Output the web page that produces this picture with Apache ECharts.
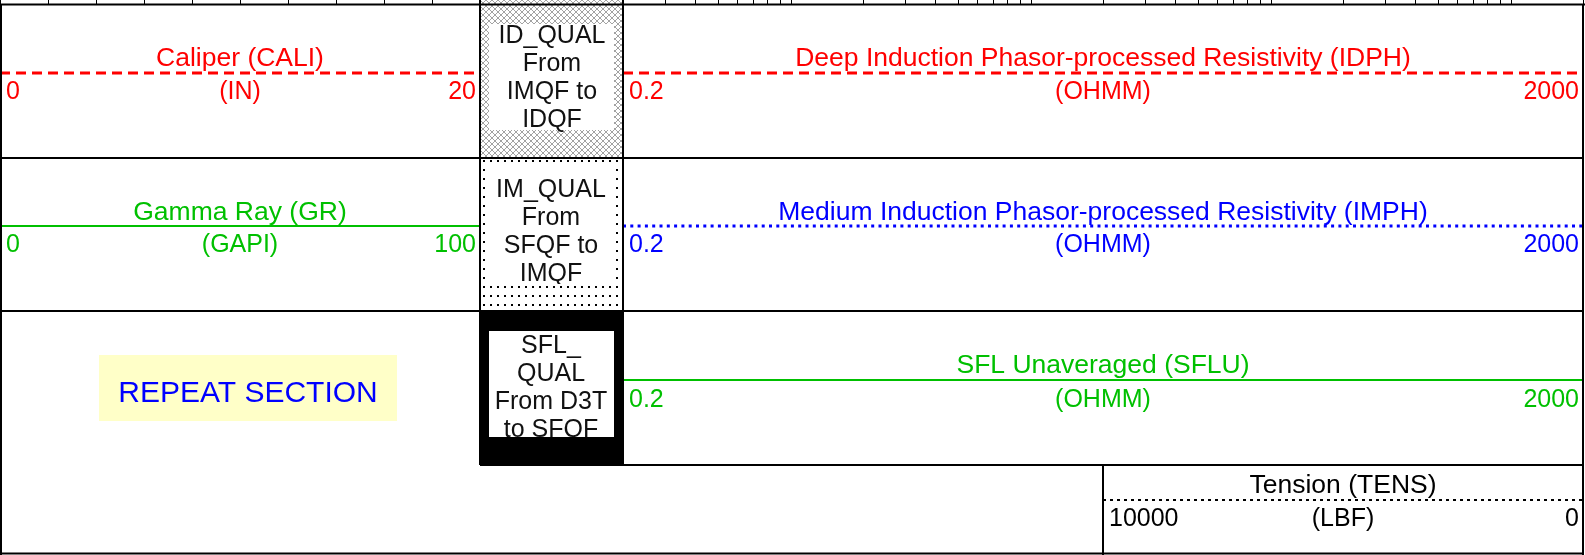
<!DOCTYPE html>
<html><head><meta charset="utf-8">
<script src="https://cdn.jsdelivr.net/npm/echarts@6/dist/echarts.min.js"></script>
<style>html,body{margin:0;padding:0;background:#fff}#c{width:1585px;height:555px}</style>
</head><body><div id="c"></div>
<script>
// ---------- data ----------
const curveNames = ['Caliper (CALI)', 'Gamma Ray (GR)', 'Deep Induction Phasor-processed Resistivity (IDPH)',
  'Medium Induction Phasor-processed Resistivity (IMPH)', 'SFL Unaveraged (SFLU)', 'Tension (TENS)'];
const curveUnits = ['(IN)', '(GAPI)', '(OHMM)', '(OHMM)', '(OHMM)', '(LBF)'];
const scaleLeft = [0, 0, 0.2, 0.2, 0.2, 10000];
const scaleRight = [20, 100, 2000, 2000, 2000, 0];
const scaleTypes = ['linear', 'linear', 'log', 'log', 'log', 'linear'];
const qualityLabels = ['ID_QUAL\nFrom\nIMQF to\nIDQF', 'IM_QUAL\nFrom\nSFQF to\nIMQF', 'SFL_\nQUAL\nFrom D3T\nto SFQF'];
const repeatLabel = 'REPEAT SECTION';
const linearGridMin = 0, linearGridMax = 100, linearGridStep = 10;
const logGridMin = 0.2, logGridMax = 2000;

// ---------- layout / style ----------
const FONT = '"Liberation Sans", Arial, Helvetica, sans-serif';
const layout = [
  {x0: 0, x1: 480, titleY: 59, lineY: 73, labelY: 92, color: '#ff0000', dash: [10, 6], width: 3},
  {x0: 0, x1: 480, titleY: 213, lineY: 226, labelY: 245, color: '#00c000', dash: 'solid', width: 2},
  {x0: 623, x1: 1583, titleY: 59, lineY: 73, labelY: 92, color: '#ff0000', dash: [10, 6], width: 3},
  {x0: 623, x1: 1583, titleY: 213, lineY: 226, labelY: 245, color: '#0000ff', dash: [3, 4.3], width: 3},
  {x0: 623, x1: 1583, titleY: 366, lineY: 380, labelY: 400, color: '#00c000', dash: 'solid', width: 2},
  {x0: 1103, x1: 1583, titleY: 486, lineY: 500, labelY: 519, color: '#000000', dash: [3, 4], width: 2}
];

function makeHatch() {
  const c = document.createElement('canvas'); c.width = 6; c.height = 6;
  const g = c.getContext('2d');
  g.fillStyle = '#fff'; g.fillRect(0, 0, 6, 6);
  g.strokeStyle = '#555'; g.lineWidth = 0.55;
  g.beginPath(); g.moveTo(0, 0); g.lineTo(6, 6); g.moveTo(6, 0); g.lineTo(0, 6);
  g.stroke();
  return c;
}
function makeDots() {
  const c = document.createElement('canvas'); c.width = 7; c.height = 9;
  const g = c.getContext('2d');
  g.fillStyle = '#fff'; g.fillRect(0, 0, 7, 9);
  g.fillStyle = '#000'; g.fillRect(0, 7, 2, 2);
  return c;
}
const hatch = {image: makeHatch(), repeat: 'repeat'};
const dots = {image: makeDots(), repeat: 'repeat'};

const chart = echarts.init(document.getElementById('c'), null, {renderer: 'canvas'});

const grids = [], xAxes = [], yAxes = [], series = [];
layout.forEach((L, i) => {
  grids.push({left: L.x0, top: L.lineY - 10, width: L.x1 - L.x0, height: 20});
  const lo = Math.min(scaleLeft[i], scaleRight[i]), hi = Math.max(scaleLeft[i], scaleRight[i]);
  xAxes.push({gridIndex: i, type: scaleTypes[i] === 'log' ? 'log' : 'value', logBase: 10,
    min: lo, max: hi, inverse: scaleLeft[i] > scaleRight[i], show: false});
  yAxes.push({gridIndex: i, type: 'value', min: 0, max: 1, show: false});
  series.push({type: 'line', xAxisIndex: i, yAxisIndex: i, symbol: 'none', silent: true,
    data: [[scaleLeft[i], 0.5], [scaleRight[i], 0.5]],
    lineStyle: {color: L.color, width: L.width, type: L.dash}});
});

// top strip (tail of the previous log section)
const linTicks = [];
for (let v = linearGridMin; v <= linearGridMax; v += linearGridStep) linTicks.push(v);
const logTicks = [];
for (let d = 0.1; d <= 1000; d *= 10) for (let k = 1; k <= 9; k++) {
  const v = +(k * d).toPrecision(3);
  if (v >= logGridMin - 1e-9 && v <= logGridMax + 1e-9) logTicks.push(v);
}
const strips = [
  {left: 0, width: 480, type: 'value', min: linearGridMin, max: linearGridMax, ticks: linTicks},
  {left: 623, width: 960, type: 'log', min: logGridMin, max: logGridMax, ticks: logTicks}
];
strips.forEach(s => {
  const gi = grids.length;
  grids.push({left: s.left, top: 0, width: s.width, height: 4});
  xAxes.push({gridIndex: gi, type: s.type, logBase: 10, min: s.min, max: s.max, show: false});
  yAxes.push({gridIndex: gi, type: 'value', min: 0, max: 1, show: false});
  series.push({type: 'line', xAxisIndex: gi, yAxisIndex: gi, symbol: 'none', silent: true,
    data: [[s.min, 0.5], [s.max, 0.5]], lineStyle: {opacity: 0},
    markLine: {silent: true, symbol: ['none', 'none'], label: {show: false},
      lineStyle: {color: '#000', width: 1, type: 'solid'},
      data: s.ticks.map(v => ({xAxis: v}))}});
});

// ---------- graphic: panels, patterns, texts ----------
const G = [];
function rect(x, y, w, h, fill, z) { G.push({type: 'rect', shape: {x, y, width: w, height: h}, style: {fill}, z: z || 1, silent: true}); }
function line(x1, y1, x2, y2, w, z) { G.push({type: 'line', shape: {x1, y1, x2, y2}, style: {stroke: '#000', lineWidth: w || 2}, z: z || 10, silent: true}); }
function text(t, x, y, color, size, align, z, lh) {
  G.push({type: 'text', x: 0, y: 0, z: z || 5, silent: true,
    style: {text: t, x, y, fill: color, font: size + 'px ' + FONT, fontSize: size, fontFamily: FONT,
      textAlign: align, align: align, textVerticalAlign: 'middle', verticalAlign: 'middle', lineHeight: lh || size}});
}

// quality column
rect(480, 0, 143, 5, hatch, 1);
rect(480, 5, 143, 153, hatch, 1);
rect(489, 24, 125, 106, '#fff', 2);
text(qualityLabels[0], 552, 78, '#111', 25, 'center', 3, 28);

rect(480, 158, 143, 153, dots, 1);
rect(486, 164, 128, 120, '#fff', 2);
text(qualityLabels[1], 551, 232, '#111', 25, 'center', 3, 28);
rect(480, 284, 143, 27, dots, 4);

rect(480, 311, 143, 154, '#000', 1);
rect(489, 331, 125, 106, '#fff', 2);
text(qualityLabels[2], 551, 388, '#111', 25, 'center', 3, 28);
rect(480, 437, 143, 28, '#000', 4);

// repeat section box
rect(99, 355, 298, 66, '#ffffc8', 1);
text(repeatLabel, 248, 394, '#0000ff', 30, 'center', 3);

// curve header texts
layout.forEach((L, i) => {
  const cx = (L.x0 + L.x1) / 2;
  text(curveNames[i], cx, L.titleY, L.color, 26.5, 'center', 5);
  text(curveUnits[i], cx, L.labelY, L.color, 25, 'center', 5);
  text(String(scaleLeft[i]), L.x0 + 6, L.labelY, L.color, 25, 'left', 5);
  text(String(scaleRight[i]), L.x1 - 4, L.labelY, L.color, 25, 'right', 5);
});

// frame lines
line(0, 4.5, 1585, 4.5, 2);
line(0, 158, 1584, 158, 2);
line(0, 311, 1584, 311, 2);
line(480, 465, 1584, 465, 2);
line(0, 553.5, 1584, 553.5, 2);
line(1, 4, 1, 555, 2);
line(1583, 4, 1583, 555, 2);
line(480, 0, 480, 465, 2);
line(623, 0, 623, 465, 2);
line(1103, 465, 1103, 555, 2);

chart.setOption({
  animation: false,
  backgroundColor: '#fff',
  grid: grids, xAxis: xAxes, yAxis: yAxes, series,
  graphic: {elements: G}
});
</script></body></html>
